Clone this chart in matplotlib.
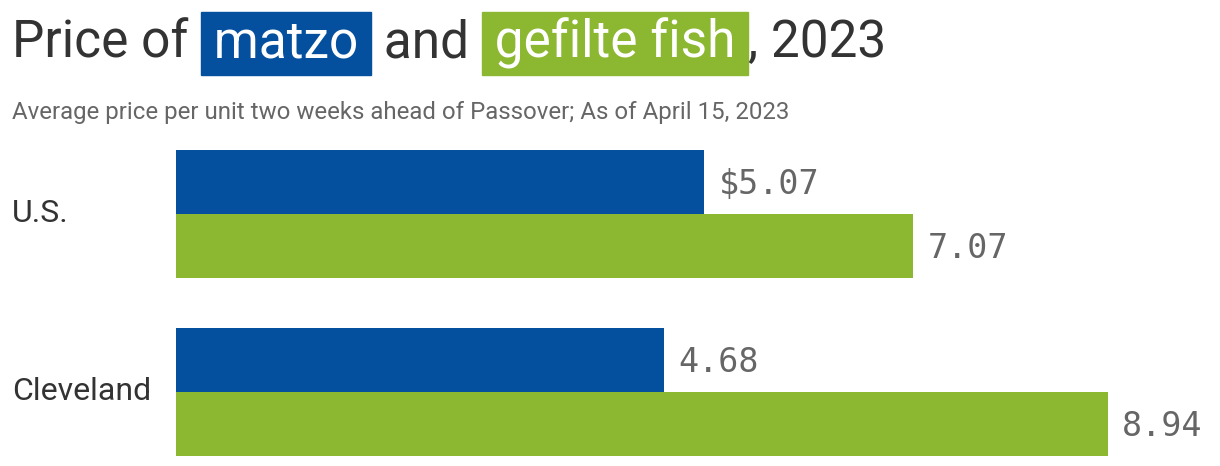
import matplotlib.pyplot as plt
from matplotlib.patches import Rectangle

# data
places = ['U.S.', 'Cleveland']
matzo = [5.07, 4.68]
gefilte = [7.07, 8.94]
matzo_labels = ['$5.07', '4.68']
gefilte_labels = ['7.07', '8.94']

blue = '#04509f'
green = '#8cb831'
dark = '#333333'
gray = '#666666'

fig = plt.figure(figsize=(12.2, 4.66), dpi=100)
W, H = 1220, 466

# axes: bars start at x=176px, top at 130px
ax = fig.add_axes([176 / W, 0, 1 - 176 / W, 336 / H])
ax.set_xlim(0, 1044 / 104.2)
ax.set_ylim(1.416, -0.472)
ax.axis('off')

h = 0.36
ys = list(range(len(places)))
ax.barh([y - h / 2 for y in ys], matzo, height=h, color=blue)
ax.barh([y + h / 2 for y in ys], gefilte, height=h, color=green)

for y, v, lab in zip(ys, matzo, matzo_labels):
    ax.annotate(lab, (v, y - h / 2), xytext=(10.5, -1.5), textcoords='offset points',
                va='center', ha='left', fontsize=24, color=gray, family='DejaVu Sans Mono')
for y, v, lab in zip(ys, gefilte, gefilte_labels):
    ax.annotate(lab, (v, y + h / 2), xytext=(10.5, -1.5), textcoords='offset points',
                va='center', ha='left', fontsize=24, color=gray, family='DejaVu Sans Mono')

# category labels at left edge of figure
for y, name in zip(ys, places):
    ax.text(-164 / 104.2, y, name, ha='left', va='center', fontsize=23,
            color=dark, family='Roboto', clip_on=False)

# title built from pieces, with coloured boxes behind the highlighted words
fig.canvas.draw()
renderer = fig.canvas.get_renderer()
pieces = [('Price of ', None), (' matzo ', blue), (' and ', None),
          (' gefilte fish ', green), (', 2023', None)]
x = 12
title_y = 1 - 43 / H
for txt, bg in pieces:
    t = fig.text(x / W, title_y, txt, ha='left', va='center', fontsize=37,
                 family='Roboto', color='white' if bg else dark, zorder=3)
    bb = t.get_window_extent(renderer)
    if bg:
        fig.add_artist(Rectangle((bb.x0 / W, 1 - 75 / H), bb.width / W, 63 / H,
                                 transform=fig.transFigure, color=bg, zorder=2))
    x = bb.x1

fig.text(12 / W, 1 - 112 / H,
         'Average price per unit two weeks ahead of Passover; As of April 15, 2023',
         ha='left', va='center', fontsize=17.3, color=gray, family='Roboto')

fig.savefig('out.png', dpi=100)
